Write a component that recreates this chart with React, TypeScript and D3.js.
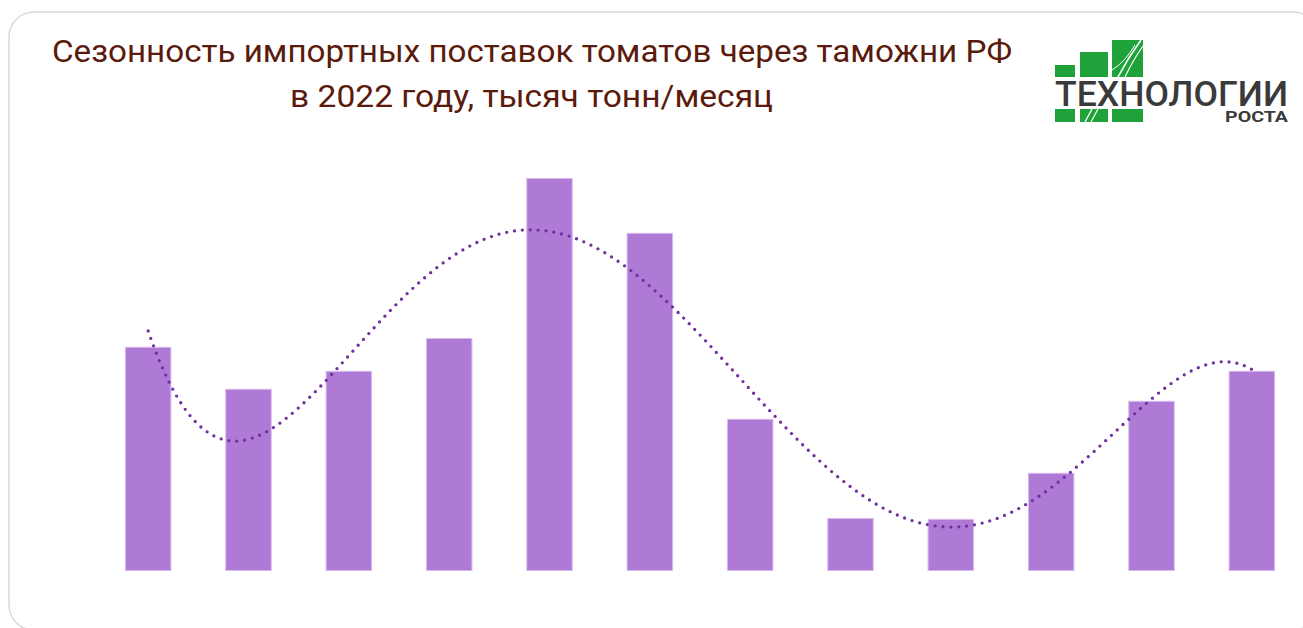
import React from "react";
import * as d3 from "d3";

const months = ["1", "2", "3", "4", "5", "6", "7", "8", "9", "10", "11", "12"];
const imports = [55.8, 45.3, 49.8, 58.0, 98.0, 84.3, 37.8, 13.0, 12.8, 24.3, 42.3, 49.8];
const titleLines = [
  "Сезонность импортных поставок томатов через таможни РФ",
  "в 2022 году, тысяч тонн/месяц",
];
const trendOrder = 5;

const W = 1303;
const H = 628;

function polyFit(xs: number[], ys: number[], order: number) {
  const mid = (d3.min(xs)! + d3.max(xs)!) / 2;
  const half = (d3.max(xs)! - d3.min(xs)!) / 2;
  const ts = xs.map((x) => (x - mid) / half);
  const n = order + 1;
  const A: number[][] = Array.from({ length: n }, () => new Array(n + 1).fill(0));
  for (let i = 0; i < n; i++) {
    for (let j = 0; j < n; j++) {
      A[i][j] = d3.sum(ts, (t) => Math.pow(t, i + j));
    }
    A[i][n] = d3.sum(ts, (t, k) => Math.pow(t, i) * ys[k]);
  }
  for (let c = 0; c < n; c++) {
    let p = c;
    for (let r = c + 1; r < n; r++) if (Math.abs(A[r][c]) > Math.abs(A[p][c])) p = r;
    [A[c], A[p]] = [A[p], A[c]];
    for (let r = 0; r < n; r++) {
      if (r === c) continue;
      const f = A[r][c] / A[c][c];
      for (let k = c; k <= n; k++) A[r][k] -= f * A[c][k];
    }
  }
  const coef = A.map((row, i) => row[n] / row[i]);
  return (x: number) => {
    const t = (x - mid) / half;
    let s = 0;
    for (let i = n - 1; i >= 0; i--) s = s * t + coef[i];
    return s;
  };
}

export default function App() {
  const x = d3
    .scaleBand<string>()
    .domain(months)
    .range([98, 1302])
    .paddingInner(0.547)
    .paddingOuter(0.2735);
  const y = d3.scaleLinear().domain([0, 100]).range([570.5, 170.5]);

  const idx = months.map((_, i) => i + 1);
  const fit = polyFit(idx, imports, trendOrder);
  const xNum = d3
    .scaleLinear()
    .domain([1, 12])
    .range([x(months[0])! + x.bandwidth() / 2, x(months[11])! + x.bandwidth() / 2]);
  const samples = d3.range(1, 12.0001, 0.02);
  const line = d3
    .line<number>()
    .x((v) => xNum(v))
    .y((v) => y(fit(v)))
    .curve(d3.curveLinear);

  const green = "#20a23b";

  return (
    <svg
      width={W}
      height={H}
      style={{ position: "absolute", left: 0, top: 0, background: "#fff" }}
    >
      <rect x={9} y={12} width={1309} height={618} rx={25} ry={25} fill="#fff" stroke="#d9d9d9" strokeWidth={1.5} />

      <g fontFamily="Roboto, 'Noto Sans', sans-serif" fill="#5a1a0c" fontSize={32} textAnchor="start">
        <text x={52} y={62} textLength={960} lengthAdjust="spacingAndGlyphs">
          {titleLines[0]}
        </text>
        <text x={290} y={107} textLength={483} lengthAdjust="spacingAndGlyphs">
          {titleLines[1]}
        </text>
      </g>

      {/* logo */}
      <g>
        <rect x={1055} y={65} width={20} height={12} fill={green} />
        <rect x={1080} y={52} width={28} height={25} fill={green} />
        <rect x={1112} y={40} width={31} height={37} fill={green} />
        <path d="M1118,77 Q1128,58 1141,40" stroke="#fff" strokeWidth={1.6} fill="none" />
        <path d="M1125,77 Q1133,60 1143,46" stroke="#fff" strokeWidth={1.2} fill="none" />
        <path d="M1112,70 Q1125,62 1135,45" stroke="#fff" strokeWidth={1} fill="none" />
        <text
          x={1055}
          y={106}
          fontFamily="Roboto, 'DejaVu Sans', sans-serif"
          fontWeight={500}
          fontSize={35}
          fill="#3a3a3a"
          textLength={233}
          lengthAdjust="spacingAndGlyphs"
        >
          ТЕХНОЛОГИИ
        </text>
        <rect x={1055} y={109} width={20} height={13} fill={green} />
        <rect x={1080} y={109} width={28} height={13} fill={green} />
        <rect x={1112} y={109} width={31} height={13} fill={green} />
        <path d="M1085,122 L1092,109" stroke="#fff" strokeWidth={1.4} />
        <path d="M1091,122 L1098,109" stroke="#fff" strokeWidth={1.2} />
        <text
          x={1225}
          y={122}
          fontFamily="Roboto, 'DejaVu Sans', sans-serif"
          fontWeight={700}
          fontSize={15}
          fill="#3a3a3a"
          textLength={63}
          lengthAdjust="spacingAndGlyphs"
        >
          РОСТА
        </text>
      </g>

      <g>
        {imports.map((v, i) => (
          <rect
            key={months[i]}
            x={x(months[i])}
            y={y(v)}
            width={x.bandwidth()}
            height={y(0) - y(v)}
            fill="#ae7ad6"
            stroke="#d7b9ee"
            strokeWidth={1}
          />
        ))}
      </g>

      <path
        d={line(samples) || ""}
        fill="none"
        stroke="#7030a0"
        strokeWidth={3.3}
        strokeLinecap="round"
        strokeDasharray="0 7.9"
      />
    </svg>
  );
}
